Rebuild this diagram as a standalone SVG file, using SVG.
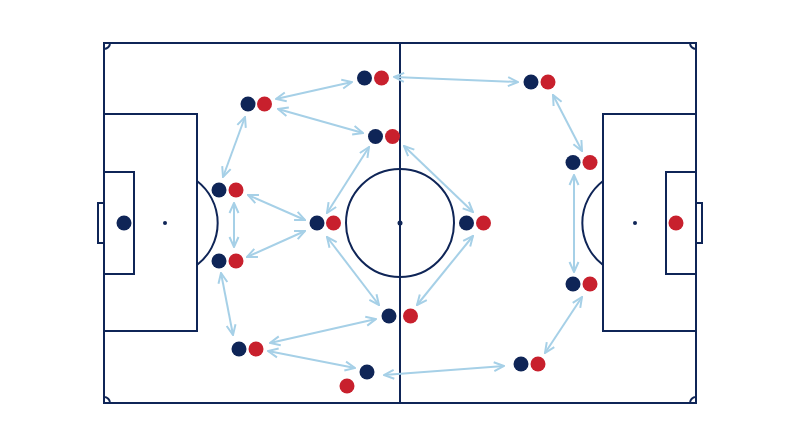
<svg xmlns="http://www.w3.org/2000/svg" width="800" height="447" viewBox="0 0 800 447">
<style>
.ln{fill:none;stroke:#0f2557;stroke-width:2}
.sp{fill:#0f2557}
.b{fill:#0f2557}
.r{fill:#c8202d}
.c{fill:none;stroke:#a6d0e7;stroke-width:2;marker-start:url(#ah);marker-end:url(#ah)}
</style>
<defs>
<marker id="ah" viewBox="0 0 12 12" refX="11" refY="6" markerWidth="12" markerHeight="12" markerUnits="userSpaceOnUse" orient="auto-start-reverse">
<path d="M1,1.5 L11,6 L1,10.5" fill="none" stroke="#a6d0e7" stroke-width="2" stroke-linejoin="miter"/>
</marker>
</defs>
<rect width="800" height="447" fill="#ffffff"/>
<g id="pitch">
<rect class="ln" x="104" y="43" width="592" height="360"/>
<line class="ln" x1="400" y1="43" x2="400" y2="403"/>
<circle class="ln" cx="400" cy="223" r="54"/>
<circle class="sp" cx="400" cy="223" r="2.5"/>
<rect class="ln" x="104" y="114" width="93" height="217"/>
<rect class="ln" x="104" y="172" width="30" height="102"/>
<rect class="ln" x="98" y="203" width="6" height="40"/>
<circle class="sp" cx="165" cy="223" r="2"/>
<path class="ln" d="M197,181 A53,53 0 0 1 197,265"/>
<rect class="ln" x="603" y="114" width="93" height="217"/>
<rect class="ln" x="666" y="172" width="30" height="102"/>
<rect class="ln" x="696" y="203" width="6" height="40"/>
<circle class="sp" cx="635" cy="223" r="2"/>
<path class="ln" d="M603,181 A53,53 0 0 0 603,265"/>
<path class="ln" d="M110,43 A6,6 0 0 1 104,49"/>
<path class="ln" d="M690,43 A6,6 0 0 0 696,49"/>
<path class="ln" d="M104,397 A6,6 0 0 1 110,403"/>
<path class="ln" d="M696,397 A6,6 0 0 0 690,403"/>
</g>
<g id="connectors">
<line class="c" x1="276" y1="99" x2="352" y2="82"/>
<line class="c" x1="278" y1="109" x2="363" y2="133"/>
<line class="c" x1="245" y1="117" x2="223" y2="177"/>
<line class="c" x1="234" y1="203" x2="234" y2="247"/>
<line class="c" x1="248" y1="195" x2="305" y2="220"/>
<line class="c" x1="247" y1="257" x2="305" y2="231"/>
<line class="c" x1="221" y1="273" x2="233" y2="335"/>
<line class="c" x1="327" y1="213" x2="369" y2="147"/>
<line class="c" x1="404" y1="146" x2="473" y2="212"/>
<line class="c" x1="327" y1="237" x2="379" y2="305"/>
<line class="c" x1="473" y1="236" x2="417" y2="305"/>
<line class="c" x1="270" y1="343" x2="376" y2="319"/>
<line class="c" x1="268" y1="351" x2="355" y2="368"/>
<line class="c" x1="384" y1="375" x2="504" y2="366"/>
<line class="c" x1="545" y1="353" x2="582" y2="297"/>
<line class="c" x1="574" y1="175" x2="574" y2="272"/>
<line class="c" x1="553" y1="95" x2="582" y2="151"/>
<line class="c" x1="394" y1="77" x2="518" y2="82"/>
</g>
<g id="gk-blue"><circle class="b" cx="124" cy="223" r="7.5"/></g>
<g id="gk-red"><circle class="r" cx="676" cy="223" r="7.5"/></g>
<g id="p1"><circle class="b" cx="248" cy="104" r="7.5"/><circle class="r" cx="264.5" cy="104" r="7.5"/></g>
<g id="p2"><circle class="b" cx="364.5" cy="78" r="7.5"/><circle class="r" cx="381.5" cy="78" r="7.5"/></g>
<g id="p3"><circle class="b" cx="375.5" cy="136.5" r="7.5"/><circle class="r" cx="392.5" cy="136.5" r="7.5"/></g>
<g id="p4"><circle class="b" cx="531" cy="82" r="7.5"/><circle class="r" cx="548" cy="82" r="7.5"/></g>
<g id="p5"><circle class="b" cx="573" cy="162.5" r="7.5"/><circle class="r" cx="590" cy="162.5" r="7.5"/></g>
<g id="p6"><circle class="b" cx="219" cy="190" r="7.5"/><circle class="r" cx="236" cy="190" r="7.5"/></g>
<g id="p7"><circle class="b" cx="219" cy="261" r="7.5"/><circle class="r" cx="236" cy="261" r="7.5"/></g>
<g id="p8"><circle class="b" cx="317" cy="223" r="7.5"/><circle class="r" cx="333.5" cy="223" r="7.5"/></g>
<g id="p9"><circle class="b" cx="466.5" cy="223" r="7.5"/><circle class="r" cx="483.5" cy="223" r="7.5"/></g>
<g id="p10"><circle class="b" cx="573" cy="284" r="7.5"/><circle class="r" cx="590" cy="284" r="7.5"/></g>
<g id="p11"><circle class="b" cx="389" cy="316" r="7.5"/><circle class="r" cx="410.5" cy="316" r="7.5"/></g>
<g id="p12"><circle class="b" cx="239" cy="349" r="7.5"/><circle class="r" cx="256" cy="349" r="7.5"/></g>
<g id="p13"><circle class="b" cx="367" cy="372" r="7.5"/><circle class="r" cx="347" cy="386" r="7.5"/></g>
<g id="p14"><circle class="b" cx="521" cy="364" r="7.5"/><circle class="r" cx="538" cy="364" r="7.5"/></g>
</svg>
